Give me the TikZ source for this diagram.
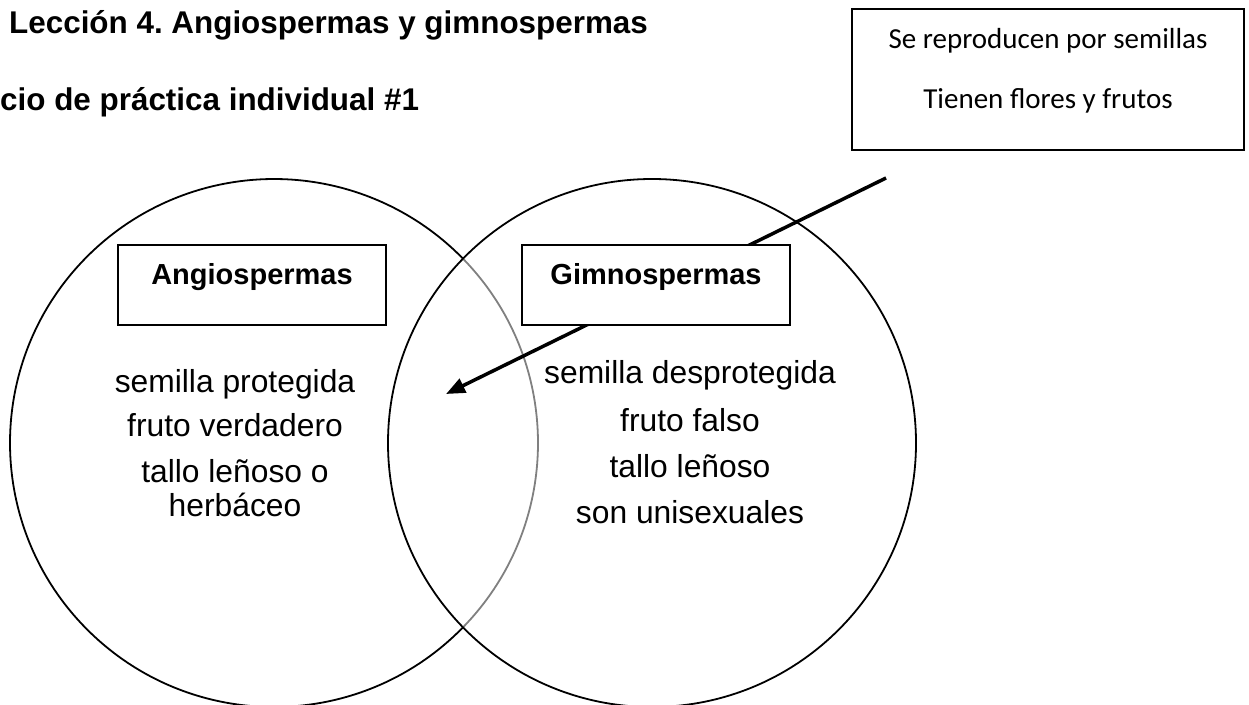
\documentclass[tikz,border=0pt]{standalone}
\usepackage{fontspec}
\setmainfont{Liberation Sans}
\newfontfamily\notefont{Carlito}
\usepackage{tikz}
\usetikzlibrary{arrows.meta,positioning}
\frenchspacing

\begin{document}
\begin{tikzpicture}[
  x=1pt,y=-1pt,
  heading/.style={anchor=base west,inner sep=0pt,font=\bfseries\fontsize{31.4}{37}\selectfont},
  ring/.style={line width=1.8pt},
  tag/.style={draw,fill=white,line width=1.6pt,minimum width=268pt,minimum height=80pt,inner sep=0pt,text depth=22pt,font=\bfseries\fontsize{29}{35}\selectfont},
  trait/.style={anchor=base,inner sep=0pt,font=\fontsize{31.8}{38}\selectfont},
  notebox/.style={draw,line width=1.6pt,minimum width=392pt,minimum height=141pt,inner sep=0pt},
  note/.style={anchor=base,inner sep=0pt,font=\notefont\fontsize{29}{35}\selectfont},
  pointer/.style={-{Triangle[length=19pt,width=15pt]},line width=3.5pt}
]
  \useasboundingbox (0,0) rectangle (1249,704);
  \clip (0,0) rectangle (1249,704);
  \node[heading] (titulo) at (9,33) {Lección 4. Angiospermas y gimnospermas};
  \node[heading] (ejercicio) at (0,110) {cio de práctica individual \#1};
  \node[notebox] (rasgos) at (1048,79.5) {};
  \node[note] (semillas) at (1048,48) {Se reproducen por semillas};
  \node[note] (flores) at (1048,108) {Tienen flores y frutos};
  \coordinate (angio) at (274,443);
  \coordinate (gimno) at (652,443);
  \draw[ring] (angio) ++(44.28:264) arc[start angle=44.28,end angle=315.72,radius=264];
  \draw[ring,draw=gray] (angio) ++(-44.28:264) arc[start angle=-44.28,end angle=44.28,radius=264];
  \draw[ring] (gimno) circle[radius=264];
  \coordinate (desde) at (886,178);
  \coordinate (hacia) at (446,394);
  \draw[pointer] (desde) -- (hacia);
  \node[tag] (angiosp) at (252,285) {Angiospermas};
  \node[tag] (gimnosp) at (656,285) {Gimnospermas};
  \foreach \txt/\yy [count=\i] in {semilla protegida/392,fruto verdadero/436,tallo leñoso o/482,herbáceo/516}
    \node[trait] (angio\i) at (235,\yy) {\txt};
  \foreach \txt/\yy [count=\i] in {semilla desprotegida/383,fruto falso/431,tallo leñoso/477,son unisexuales/523}
    \node[trait] (gimno\i) at (690,\yy) {\txt};
\end{tikzpicture}
\end{document}
